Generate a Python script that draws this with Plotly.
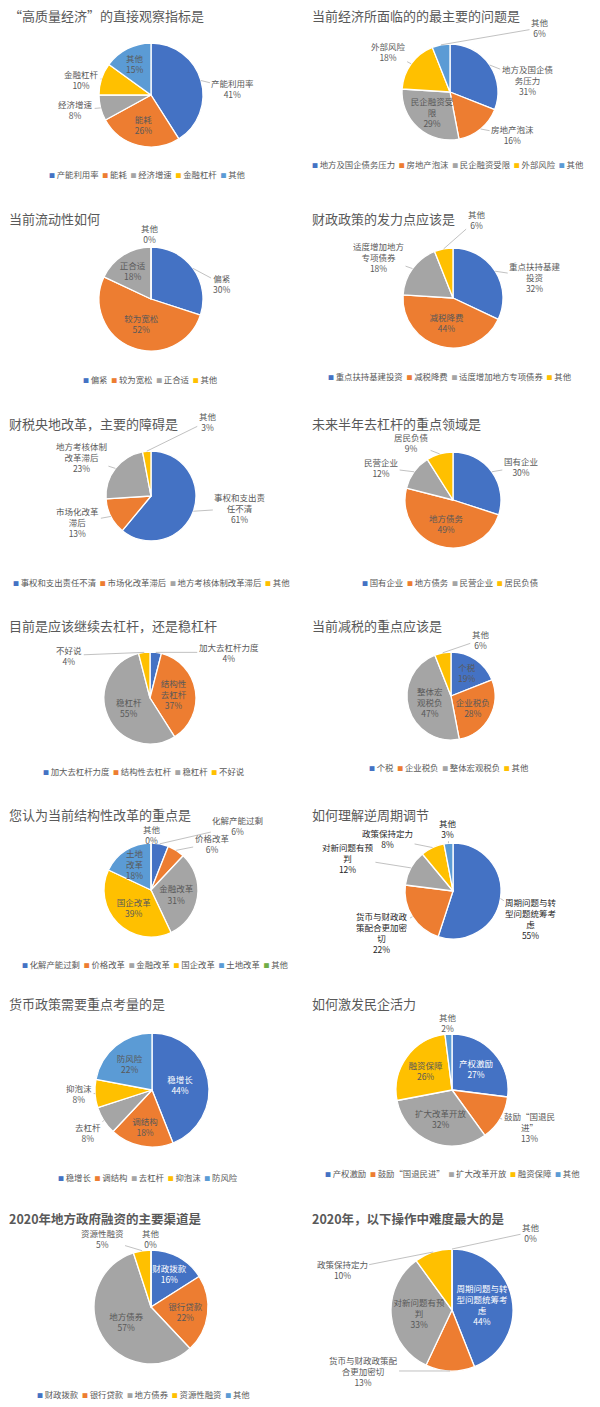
import math

import plotly.graph_objects as go

W, H = 600, 1407
FONT = "Noto Sans CJK SC"
GREY = "#595959"
COLORS = ["#4472C4", "#ED7D31", "#A5A5A5", "#FFC000", "#5B9BD5", "#70AD47"]

# ---- data (percent of answers) ----
q1_title = "“高质量经济”的直接观察指标是"
q1_labels = ["产能利用率", "能耗", "经济增速", "金融杠杆", "其他"]
q1_values = [41, 26, 8, 10, 15]

q2_title = "当前经济所面临的的最主要的问题是"
q2_labels = ["地方及国企债务压力", "房地产泡沫", "民企融资受限", "外部风险", "其他"]
q2_values = [31, 16, 29, 18, 6]

q3_title = "当前流动性如何"
q3_labels = ["偏紧", "较为宽松", "正合适", "其他"]
q3_values = [30, 52, 18, 0]

q4_title = "财政政策的发力点应该是"
q4_labels = ["重点扶持基建投资", "减税降费", "适度增加地方专项债券", "其他"]
q4_values = [32, 44, 18, 6]

q5_title = "财税央地改革，主要的障碍是"
q5_labels = ["事权和支出责任不清", "市场化改革滞后", "地方考核体制改革滞后", "其他"]
q5_values = [61, 13, 23, 3]

q6_title = "未来半年去杠杆的重点领域是"
q6_labels = ["国有企业", "地方债务", "民营企业", "居民负债"]
q6_values = [30, 49, 12, 9]

q7_title = "目前是应该继续去杠杆，还是稳杠杆"
q7_labels = ["加大去杠杆力度", "结构性去杠杆", "稳杠杆", "不好说"]
q7_values = [4, 37, 55, 4]

q8_title = "当前减税的重点应该是"
q8_labels = ["个税", "企业税负", "整体宏观税负", "其他"]
q8_values = [19, 28, 47, 6]

q9_title = "您认为当前结构性改革的重点是"
q9_labels = ["化解产能过剩", "价格改革", "金融改革", "国企改革", "土地改革", "其他"]
q9_values = [6, 6, 31, 39, 18, 0]

q10_title = "如何理解逆周期调节"
q10_labels = ["周期问题与转型问题统筹考虑", "货币与财政政策配合更加密切", "对新问题有预判", "政策保持定力", "其他"]
q10_values = [55, 22, 12, 8, 3]

q11_title = "货币政策需要重点考量的是"
q11_labels = ["稳增长", "调结构", "去杠杆", "抑泡沫", "防风险"]
q11_values = [44, 18, 8, 8, 22]

q12_title = "如何激发民企活力"
q12_labels = ["产权激励", "鼓励“国退民进”", "扩大改革开放", "融资保障", "其他"]
q12_values = [27, 13, 32, 26, 2]

q13_title = "2020年地方政府融资的主要渠道是"
q13_labels = ["财政拨款", "银行贷款", "地方债券", "资源性融资", "其他"]
q13_values = [16, 22, 57, 5, 0]

q14_title = "2020年，以下操作中难度最大的是"
q14_labels = ["周期问题与转型问题统筹考虑", "货币与财政政策配合更加密切", "对新问题有预判", "政策保持定力", "其他"]
q14_values = [44, 13, 33, 10, 0]

# ---- layout of each small chart ----
# cx, cy, r: pie centre and radius in px; ty: title row; lx, ly: legend start
# inside: slices labelled on the slice; off: label offset (px) from the slice edge
charts = [
    dict(t=q1_title, l=q1_labels, v=q1_values, cx=151, cy=95, r=52, ty=15, lx=47, ly=174,
         inside=[1, 4], off={0: (32, 8), 2: (-25, 2), 3: (-20, 1)}),
    dict(t=q2_title, l=q2_labels, v=q2_values, cx=450, cy=92, r=48, ty=15, lx=310, ly=164,
         inside=[2], wrap=[6, 0, 5, 0, 0],
         off={0: (38, 15), 1: (32, 6), 3: (-23, -12), 4: (99, -17)}),
    dict(t=q3_title, l=q3_labels, v=q3_values, cx=151, cy=299, r=52, ty=218, lx=81, ly=379,
         inside=[1, 2], off={0: (28, 15), 3: (-1, -13)}),
    dict(t=q4_title, l=q4_labels, v=q4_values, cx=453, cy=298, r=50, ty=218, lx=326, ly=376,
         inside=[1], wrap=[6, 0, 6, 0],
         off={0: (40, 6), 2: (-34, -12), 3: (33, -29)}),
    dict(t=q5_title, l=q5_labels, v=q5_values, cx=151, cy=496, r=45, ty=423, lx=11, ly=582,
         inside=[], wrap=[6, 5, 6, 0],
         off={0: (47, -3), 1: (-33, 6), 2: (-34, -11), 3: (61, -30)}),
    dict(t=q6_title, l=q6_labels, v=q6_values, cx=453, cy=500, r=48, ty=423, lx=360, ly=582,
         inside=[1], off={0: (29, -5), 2: (-33, -4), 3: (-28, -11)}),
    dict(t=q7_title, l=q7_labels, v=q7_values, cx=150, cy=698, r=46, ty=625, lx=41, ly=771,
         inside=[1, 2], wrap=[0, 3, 0, 0], off={0: (73, 0), 3: (-75, 3)}),
    dict(t=q8_title, l=q8_labels, v=q8_values, cx=451, cy=696, r=44, ty=625, lx=367, ly=767,
         inside=[0, 1, 2], wrap=[0, 0, 3, 0], off={3: (38, -13)}),
    dict(t=q9_title, l=q9_labels, v=q9_values, cx=151, cy=890, r=47, ty=814, lx=20, ly=964,
         inside=[2, 3, 4], wrap=[0, 0, 0, 0, 2, 0],
         off={0: (78, -18), 1: (36, -7), 5: (1, -9)}),
    dict(t=q10_title, l=q10_labels, v=q10_values, cx=453, cy=891, r=48, ty=814, lx=None, ly=None,
         inside=[], wrap=[6, 6, 6, 0, 0], dark=True,
         off={0: (31, 20), 1: (-30, 16), 2: (-63, -10), 3: (-45, -9), 4: (0, -15)}),
    dict(t=q11_title, l=q11_labels, v=q11_values, cx=152, cy=1090, r=57, ty=1003, lx=56, ly=1177,
         inside=[0, 1, 4], white=[0], off={2: (-16, 12), 3: (-16, 0)}),
    dict(t=q12_title, l=q12_labels, v=q12_values, cx=452, cy=1090, r=56, ty=1003, lx=323, ly=1173,
         inside=[0, 2, 3], wrap=[0, 6, 0, 0, 0], white=[0], off={1: (29, 8), 4: (0, -12)}),
    dict(t=q13_title, l=q13_labels, v=q13_values, cx=151, cy=1307, r=57, ty=1218, lx=35, ly=1394,
         inside=[0, 1, 2], white=[0], bold=True, off={3: (-40, -12), 4: (0, -12)}),
    dict(t=q14_title, l=q14_labels, v=q14_values, cx=452, cy=1310, r=61, ty=1218, lx=None, ly=None,
         inside=[0, 2], wrap=[6, 8, 6, 0, 0], white=[0], bold=True,
         off={1: (-87, 0), 3: (-91, 18), 4: (79, -17)}),
]


def wrap(s, n):
    if not n:
        return s
    return "<br>".join(s[k:k + n] for k in range(0, len(s), n))


fig = go.Figure()
annotations = []

for c in charts:
    n = len(c["l"])
    wr = c.get("wrap", [0] * n)
    txt = [wrap(s, k) for s, k in zip(c["l"], wr)]
    base = "#262626" if c.get("dark") else GREY
    tcol = ["white" if k in c.get("white", []) else base for k in range(n)]
    pos = ["inside" if k in c["inside"] else "none" for k in range(n)]
    x0, x1 = (c["cx"] - c["r"]) / W, (c["cx"] + c["r"]) / W
    y0, y1 = 1 - (c["cy"] + c["r"]) / H, 1 - (c["cy"] - c["r"]) / H
    fig.add_trace(go.Pie(
        labels=c["l"], values=c["v"], text=txt,
        texttemplate="%{text}<br>%{percent:.0%}",
        textposition=pos,
        insidetextorientation="horizontal",
        sort=False, direction="clockwise", rotation=0,
        marker=dict(colors=COLORS[:n], line=dict(color="white", width=1.3)),
        textfont=dict(family=FONT, size=8.5, color=tcol),
        domain=dict(x=[x0, x1], y=[y0, y1]),
        showlegend=False, hoverinfo="label+percent",
    ))

    # outside labels with leader lines, hung on the edge of their slice
    total = sum(c["v"])
    cum = 0
    for k, v in enumerate(c["v"]):
        mid = 2 * math.pi * (cum + v / 2) / total
        cum += v
        if k not in c["off"]:
            continue
        ex = c["cx"] + c["r"] * math.sin(mid)
        ey = c["cy"] - c["r"] * math.cos(mid)
        dx, dy = c["off"][k]
        annotations.append(dict(
            text="%s<br>%d%%" % (txt[k], round(100 * v / total)),
            xref="paper", yref="paper", x=ex / W, y=1 - ey / H,
            ax=dx, ay=dy, showarrow=True, arrowhead=0, arrowwidth=0.7,
            arrowcolor="#A6A6A6", standoff=0, startstandoff=0,
            font=dict(family=FONT, size=8.5, color=base), align="center",
        ))

    title = "<b>%s</b>" % c["t"] if c.get("bold") else c["t"]
    annotations.append(dict(
        text=title, xref="paper", yref="paper",
        x=(7 if c["cx"] < 300 else 310) / W, y=1 - c["ty"] / H,
        xanchor="left", yanchor="middle", align="left", showarrow=False,
        font=dict(family=FONT, size=12.5 if c.get("bold") else 13, color=GREY),
    ))

    if c["ly"] is not None:
        items = ["<span style='color:%s;font-size:6px'>■</span>\u2009%s" % (COLORS[k], c["l"][k])
                 for k in range(n)]
        annotations.append(dict(
            text="\u00a0\u00a0".join(items), xref="paper", yref="paper",
            x=c["lx"] / W, y=1 - c["ly"] / H,
            xanchor="left", yanchor="middle", align="left", showarrow=False,
            font=dict(family=FONT, size=8.4, color=GREY),
        ))

fig.update_layout(
    width=W, height=H,
    margin=dict(l=0, r=0, t=0, b=0),
    paper_bgcolor="white", plot_bgcolor="white",
    annotations=annotations,
    uniformtext=dict(minsize=8.5, mode="show"),
    font=dict(family=FONT, color=GREY),
)

# the page's default body margin would shift the whole picture by 8px
fig.write_html("out.html", config={"displayModeBar": False},
               post_script="document.body.style.margin='0';")
